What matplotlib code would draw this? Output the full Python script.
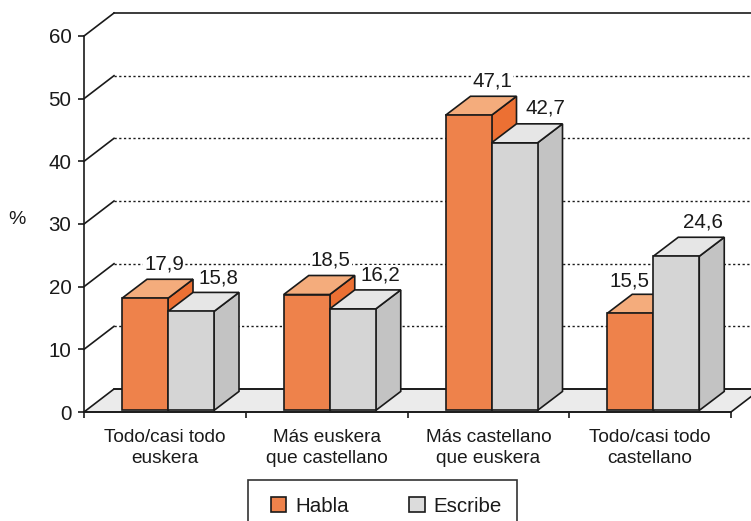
import matplotlib
matplotlib.use("Agg")
import matplotlib.pyplot as plt
from matplotlib.patches import Polygon, Patch, Rectangle

plt.rcParams['font.family'] = ['Liberation Sans', 'DejaVu Sans']

categories = ["Todo/casi todo\neuskera", "Más euskera\nque castellano",
              "Más castellano\nque euskera", "Todo/casi todo\ncastellano"]
habla = [17.9, 18.5, 47.1, 15.5]
escribe = [15.8, 16.2, 42.7, 24.6]
yticks = [0, 10, 20, 30, 40, 50, 60]

# label offsets in pixels from the front top of each bar
habla_off = [(19, 25), (24, 25), (24, 25), (-1, 23)]
escribe_off = [(27, 24), (28, 24), (31, 25), (27, 25)]

W, H = 751, 521
X0, X4 = 84, 731
Y0, Y60 = 412, 36
CAT = (X4 - X0) / 4
UNIT = (Y0 - Y60) / 60

# depth of the wall/floor and of the bars, in data units
wall_dx, wall_dy = 30 / CAT, 23 / UNIT
bar_dx, bar_dy = 25 / CAT, 19 / UNIT
bar_w = 46 / CAT
bar_start = 38 / CAT
lift = 0.25

EDGE = "#1a1a1a"
LW = 1.2
FS = 14.8
ORANGE = ("#EE824B", "#F4AC7C", "#EC7033")
GREY = ("#D5D5D5", "#E6E6E6", "#C3C3C3")


def draw_bar(ax, x, v, cols):
    b, t = lift, v + lift
    r = x + bar_w
    front = [(x, b), (r, b), (r, t), (x, t)]
    top = [(x, t), (r, t), (r + bar_dx, t + bar_dy), (x + bar_dx, t + bar_dy)]
    side = [(r, b), (r + bar_dx, b + bar_dy), (r + bar_dx, t + bar_dy), (r, t)]
    for pts, c in ((side, cols[2]), (top, cols[1]), (front, cols[0])):
        ax.add_patch(Polygon(pts, closed=True, facecolor=c, edgecolor=EDGE,
                             lw=LW, joinstyle="miter", zorder=5, clip_on=False))


fig = plt.figure(figsize=(W / 100, H / 100), dpi=100)
ax = fig.add_axes([X0 / W, 1 - Y0 / H, (X4 - X0) / W, (Y0 - Y60) / H])
ax.set_xlim(0, 4)
ax.set_ylim(0, 60)
ax.patch.set_visible(False)

right = (W + 2 - X0) / CAT

# floor
ax.add_patch(Polygon([(0, 0), (4, 0), (4 + wall_dx, wall_dy), (wall_dx, wall_dy)],
                     closed=True, facecolor="#EBEBEB", edgecolor=EDGE, lw=LW,
                     zorder=1, clip_on=False))
ax.plot([wall_dx, right], [wall_dy, wall_dy], color=EDGE, lw=LW, zorder=1.5, clip_on=False)

# back wall lines
for v in yticks[1:]:
    ax.plot([0, wall_dx], [v, v + wall_dy], color=EDGE, lw=LW, zorder=2, clip_on=False)
    ls = "-" if v == 60 else (0, (1.6, 1.8))
    ax.plot([wall_dx, right], [v + wall_dy, v + wall_dy], color=EDGE, lw=LW if v == 60 else 1.0,
            ls=ls, zorder=2, clip_on=False)

for i in range(4):
    x1 = i + bar_start
    x2 = x1 + bar_w
    draw_bar(ax, x1, habla[i], ORANGE)
    draw_bar(ax, x2, escribe[i], GREY)
    for x, v, off in ((x1, habla[i], habla_off[i]), (x2, escribe[i], escribe_off[i])):
        ax.annotate(f"{v:.1f}".replace(".", ","), (x + bar_w / 2, v + lift), xytext=off,
                    textcoords="offset pixels", ha="center", va="bottom", fontsize=FS,
                    color="#1a1a1a", zorder=4, annotation_clip=False,
                    bbox=dict(facecolor="white", edgecolor="none", pad=0.6))

ax.spines["top"].set_visible(False)
ax.spines["right"].set_visible(False)
for s in ("left", "bottom"):
    ax.spines[s].set_linewidth(LW)
    ax.spines[s].set_color(EDGE)
    ax.spines[s].set_zorder(6)

ax.set_yticks(yticks)
ax.set_xticks(range(5))
ax.set_xticklabels([])
ax.set_xticks([i + 0.5 for i in range(4)], minor=True)
ax.set_xticklabels(categories, minor=True, linespacing=1.3)
ax.tick_params(axis="x", which="major", length=4.5, width=LW, color=EDGE)
ax.tick_params(axis="x", which="minor", length=0, pad=12.5, labelsize=13.7, labelcolor="#1a1a1a")
ax.tick_params(axis="y", length=4.5, width=LW, color=EDGE, pad=4.5, labelsize=FS, labelcolor="#1a1a1a")

fig.text(17 / W, 1 - 220 / H, "%", ha="center", va="center", fontsize=14, color="#1a1a1a")

# legend frame runs off the bottom of the picture
fig.add_artist(Rectangle((248 / W, -10 / H), (517 - 248) / W, (H + 10 - 480) / H,
                         transform=fig.transFigure, facecolor="white", edgecolor="#333333", lw=1.2))
handles = [Patch(facecolor=ORANGE[0], edgecolor=EDGE, lw=LW, label="Habla"),
           Patch(facecolor="#DCDCDC", edgecolor=EDGE, lw=LW, label="Escribe")]
leg = fig.legend(handles=handles, loc="upper left", bbox_to_anchor=(271 / W, 1 - 496.5 / H),
                 ncol=2, fontsize=FS, frameon=False, borderpad=0, borderaxespad=0,
                 handlelength=0.75, handleheight=0.75, handletextpad=0.42, columnspacing=2.95,
                 labelcolor="#1a1a1a")

fig.savefig("out.png", dpi=100)
